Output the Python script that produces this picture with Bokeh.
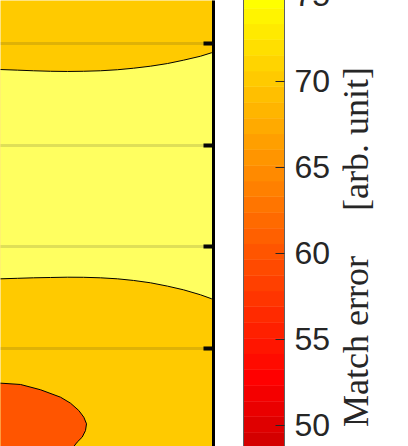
import math
from bokeh.plotting import figure
from bokeh.layouts import row
from bokeh.models import Range1d, FixedTicker, LinearAxis, ColumnDataSource
from bokeh.core.properties import value
from bokeh.transform import linear_cmap
from bokeh.embed import file_html
from bokeh.resources import INLINE

# ---- data (axis units) ----
# upper 80-level contour line
top_x = [-0.05, 0.0, 0.17, 0.33, 0.50, 0.67, 0.83, 1.00, 1.17, 1.33, 1.50, 1.67, 1.83, 2.00, 2.11, 2.20]
top_y = [3.745, 3.743, 3.737, 3.731, 3.726, 3.724, 3.726, 3.731, 3.741, 3.756, 3.776, 3.802, 3.835, 3.874, 3.908, 3.938]
# lower 80-level contour line
low_x = [-0.05, 0.0, 0.17, 0.33, 0.50, 0.67, 0.83, 1.00, 1.17, 1.33, 1.50, 1.67, 1.83, 2.00, 2.11, 2.20]
low_y = [1.684, 1.685, 1.690, 1.695, 1.698, 1.701, 1.700, 1.695, 1.685, 1.669, 1.646, 1.613, 1.577, 1.528, 1.489, 1.456]
# 70-level contour (closed minimum at bottom left)
ell_x = [-0.05, 0.0, 0.20, 0.40, 0.60, 0.70, 0.783, 0.833, 0.86, 0.85, 0.817, 0.767, 0.733, 0.68, 0.60]
ell_y = [0.660, 0.659, 0.646, 0.594, 0.521, 0.462, 0.390, 0.324, 0.259, 0.193, 0.128, 0.079, 0.036, -0.013, -0.062]

# fill level of each region: background, band between the two 80 lines, minimum
region_levels = [70, 80, 60]

x_lim = (0.0, 2.13)
y_lim = (0.036, 4.422)
y_ticks = [1, 2, 3, 4]

c_lim = (31.33, 89.76)          # colour axis limits
cbar_lim = (48.78, 75.85)       # part of the colour bar that is drawn
label_lim = (48.78, 74.69)      # value scale beside the visible bar
cbar_ticks = [50, 55, 60, 65, 70, 75]
cbar_label = "Match error \u2003[arb. unit]"
cbar_label_at = 60.37


def hot(n):
    m = int(3 * n / 8)
    cols = []
    for i in range(n):
        r = (i + 1) / m if i < m else 1.0
        g = 0.0 if i < m else ((i + 1 - m) / m if i < 2 * m else 1.0)
        b = 0.0 if i < 2 * m else (i + 1 - 2 * m) / (n - 2 * m)
        cols.append("#%02x%02x%02x" % (round(255 * r), round(255 * g), round(255 * b)))
    return cols


palette = hot(64)
cmap = linear_cmap("level", palette, c_lim[0], c_lim[1])

# ---- main contour panel ----
p1 = figure(width=228, height=446, output_backend="svg", toolbar_location=None,
            x_range=Range1d(*x_lim), y_range=Range1d(*y_lim),
            x_axis_location=None, y_axis_location="right",
            min_border_left=0, min_border_top=0, min_border_bottom=0, min_border_right=15)
p1.outline_line_color = None

pad = 0.2
outer_x = [x_lim[0] - pad, x_lim[1] + pad, x_lim[1] + pad, x_lim[0] - pad]
outer_y = [y_lim[0] - pad, y_lim[0] - pad, y_lim[1] + pad, y_lim[1] + pad]
band_x = top_x + low_x[::-1]
band_y = top_y + low_y[::-1]
min_x = ell_x + [ell_x[0]]
min_y = ell_y + [ell_y[-1]]

src = ColumnDataSource(dict(xs=[outer_x, band_x, min_x], ys=[outer_y, band_y, min_y],
                            level=region_levels))
p1.patches("xs", "ys", source=src, fill_color=cmap, line_color=None)

for xs, ys in [(top_x, top_y), (low_x, low_y), (ell_x, ell_y)]:
    p1.line(xs, ys, line_color="black", line_width=1)

ax = p1.yaxis[0]
ax.ticker = FixedTicker(ticks=y_ticks)
ax.major_label_overrides = {t: "" for t in y_ticks}
ax.major_label_standoff = 0
ax.major_tick_in = 10
ax.major_tick_out = 0
ax.minor_tick_in = 0
ax.minor_tick_out = 0
ax.axis_line_width = 3
ax.axis_line_color = "black"
ax.major_tick_line_width = 4
ax.major_tick_line_color = "black"

p1.ygrid.ticker = FixedTicker(ticks=y_ticks)
p1.ygrid.grid_line_color = "#262626"
p1.ygrid.grid_line_alpha = 0.15
p1.ygrid.grid_line_width = 3
p1.ygrid.level = "overlay"
p1.xgrid.visible = False

# ---- colour bar panel (its top runs above the page, as in the original) ----
p2 = figure(width=107, height=466, output_backend="svg", toolbar_location=None,
            x_range=Range1d(0, 1), y_range=Range1d(*cbar_lim),
            x_axis_location=None, y_axis_location="right",
            min_border_left=15, min_border_top=0, min_border_bottom=0, min_border_right=51)
p2.styles = {"margin-top": "-20px"}
p2.outline_line_color = None
p2.xgrid.visible = False
p2.ygrid.visible = False

step = (c_lim[1] - c_lim[0]) / len(palette)
bottoms = [c_lim[0] + k * step for k in range(len(palette))]
tops = [c_lim[0] + (k + 1) * step for k in range(len(palette))]
p2.quad(left=0, right=1, bottom=bottoms, top=tops, fill_color=palette,
        line_color=palette, line_width=0.5)

cax = p2.yaxis[0]
cax.ticker = FixedTicker(ticks=cbar_ticks)
cax.major_tick_in = 9
cax.major_tick_out = 0
cax.minor_tick_in = 0
cax.minor_tick_out = 0
cax.major_tick_line_color = "#262626"
cax.major_tick_line_width = 1
cax.axis_line_color = "#606060"
cax.axis_line_width = 1
cax.major_label_standoff = 10
cax.major_label_text_font = "Liberation Sans"
cax.major_label_text_font_size = "32px"
cax.major_label_text_color = "#262626"

lax = LinearAxis(ticker=FixedTicker(ticks=[]), axis_line_color="#606060", axis_line_width=1,
                 major_tick_in=0, major_tick_out=0, minor_tick_in=0, minor_tick_out=0,
                 major_label_text_font_size="0px")
p2.add_layout(lax, "left")

# ---- colour bar title panel ----
p3 = figure(width=73, height=446, output_backend="svg", toolbar_location=None,
            x_range=Range1d(0, 73), y_range=Range1d(*label_lim),
            x_axis_location=None, y_axis_location=None,
            min_border_left=0, min_border_top=0, min_border_bottom=0, min_border_right=0)
p3.outline_line_color = None
p3.xgrid.visible = False
p3.ygrid.visible = False
p3.text(x=[20], y=[cbar_label_at], text=[cbar_label], angle=math.pi / 2,
        text_align="center", text_baseline="alphabetic",
        text_font=value("Liberation Serif"), text_font_size="36px", text_color="#262626")

layout = row(p1, p2, p3)

open("out.html", "w").write(file_html(layout, INLINE))
